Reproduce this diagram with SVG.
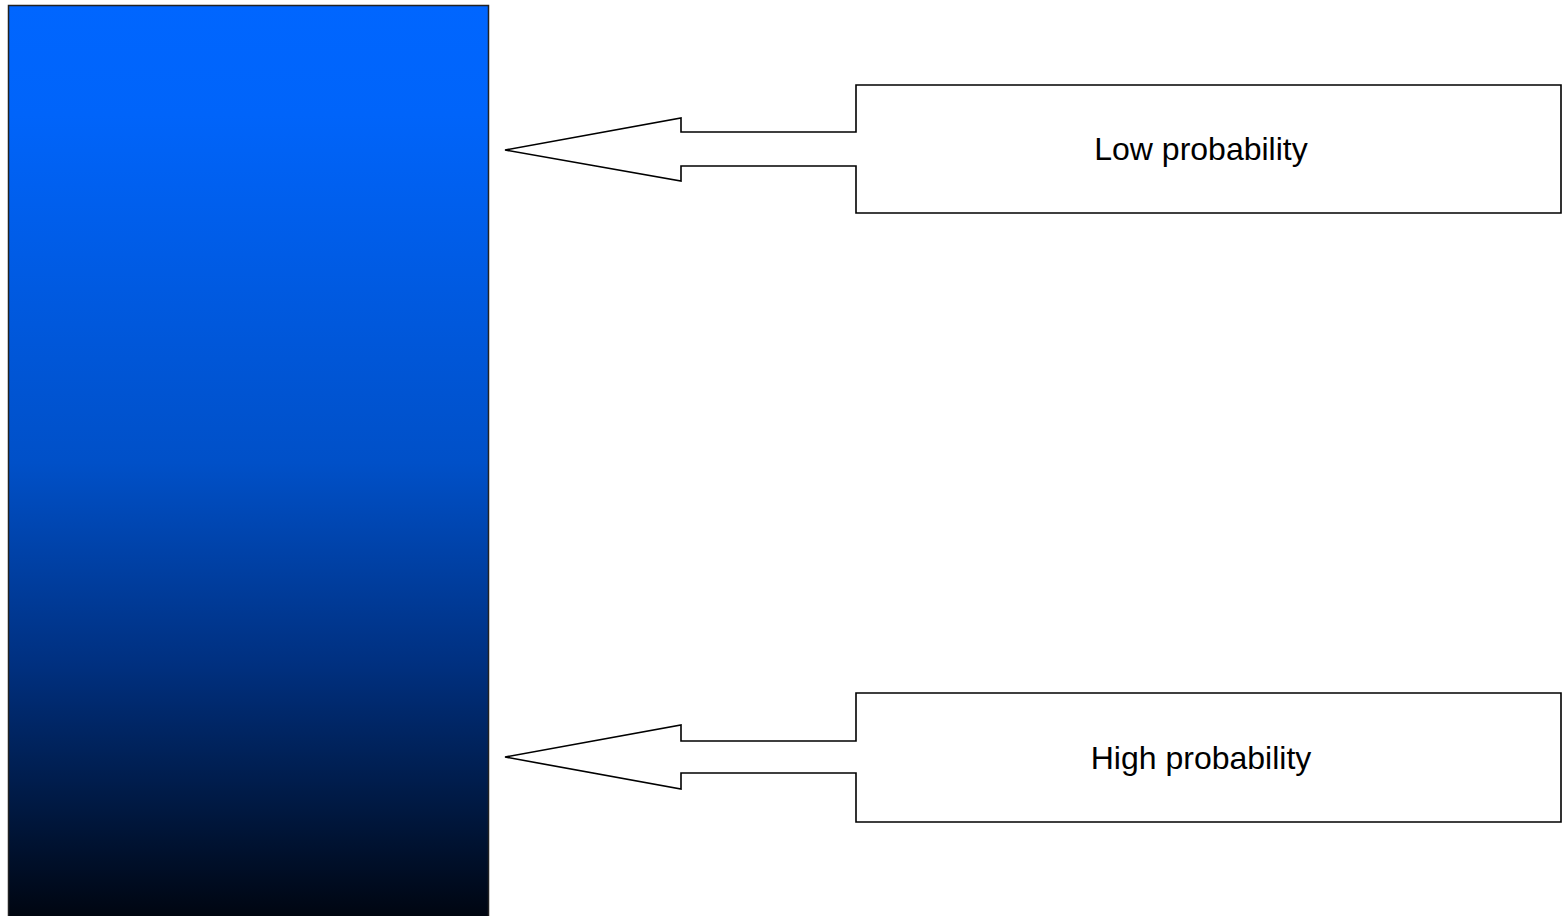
<svg xmlns="http://www.w3.org/2000/svg" width="1564" height="916" viewBox="0 0 1564 916">
<defs>
<linearGradient id="bar" x1="0" y1="0" x2="0" y2="1">
<stop offset="0" stop-color="#0066FF"/>
<stop offset="0.12" stop-color="#0064FA"/>
<stop offset="0.5" stop-color="#0050C8"/>
<stop offset="0.72" stop-color="#003080"/>
<stop offset="0.88" stop-color="#001840"/>
<stop offset="1" stop-color="#00050F"/>
</linearGradient>
<style>
.callout{fill:#FFFFFF;stroke:#000000;stroke-width:1.6;stroke-linejoin:miter}
.lbl{font-family:"Liberation Sans",Arial,sans-serif;font-size:32px;fill:#000000;text-anchor:middle}
</style>
</defs>
<rect width="1564" height="916" fill="#FFFFFF"/>
<g id="bar-node">
<rect x="8.5" y="5.5" width="480" height="915" fill="url(#bar)" stroke="#222222" stroke-width="1.5"/>
</g>
<g id="connectors"></g>
<g id="low">
<path class="callout" d="M856,85 L1561,85 L1561,213 L856,213 L856,166 L681,166 L681,181 L505,150 L681,118 L681,132 L856,132 Z"/>
<text class="lbl" x="1201" y="160">Low probability</text>
</g>
<g id="high">
<path class="callout" d="M856,693 L1561,693 L1561,822 L856,822 L856,773 L681,773 L681,789 L505,757 L681,725 L681,741 L856,741 Z"/>
<text class="lbl" x="1201" y="769">High probability</text>
</g>
</svg>
